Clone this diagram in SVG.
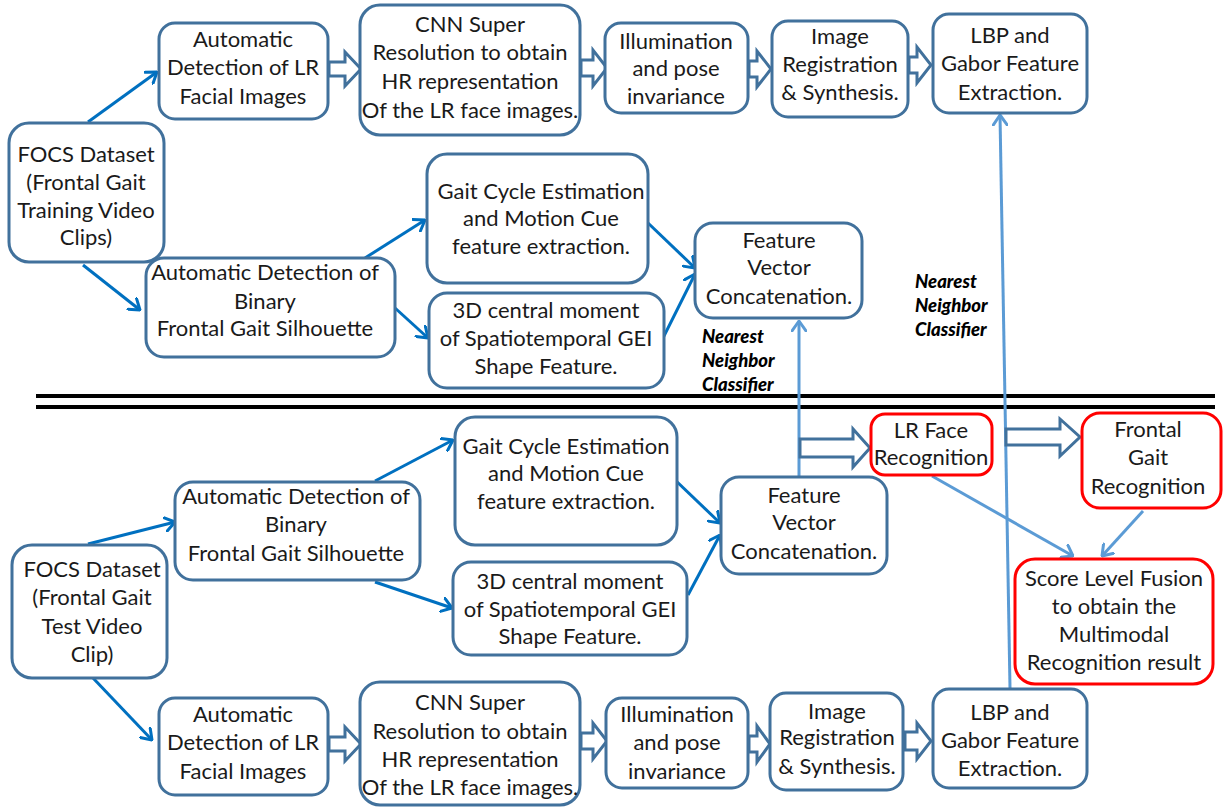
<svg xmlns="http://www.w3.org/2000/svg" width="1227" height="809" viewBox="0 0 1227 809">
<defs>
<style>
.b{fill:#fff;stroke:#41719C;stroke-width:3}
.r{fill:#fff;stroke:#FF0000;stroke-width:3}
.t{font-family:Lato,"Liberation Sans",sans-serif;font-size:22px;fill:#1a1a1a;text-anchor:middle}
.nn{font-family:Lato,"Liberation Sans",sans-serif;font-size:18.5px;font-weight:900;font-style:italic;fill:#000}
.c1{stroke:#0070C0;stroke-width:3;fill:none;marker-end:url(#a1)}
.c2{stroke:#5B9BD5;stroke-width:3;fill:none;marker-end:url(#a2)}
.ba{fill:#fff;stroke:#41719C;stroke-width:3;stroke-linejoin:miter}
.sep{stroke:#000;stroke-width:4}
</style>
<marker id="a1" viewBox="0 0 12 16" refX="11" refY="8" markerWidth="12" markerHeight="16" markerUnits="userSpaceOnUse" orient="auto">
<path d="M1,1 L11,8 L1,15" fill="none" stroke="#0070C0" stroke-width="3" stroke-linecap="round" stroke-linejoin="round"/>
</marker>
<marker id="a2" viewBox="0 0 12 16" refX="11" refY="8" markerWidth="12" markerHeight="16" markerUnits="userSpaceOnUse" orient="auto">
<path d="M1,1 L11,8 L1,15" fill="none" stroke="#5B9BD5" stroke-width="3" stroke-linecap="round" stroke-linejoin="round"/>
</marker>
</defs>
<rect width="1227" height="809" fill="#fff"/>

<g id="separator">
<line class="sep" x1="36" y1="396" x2="1215" y2="396"/>
<line class="sep" x1="36" y1="407" x2="1215" y2="407"/>
</g>

<g id="connectors">
<line class="c1" x1="88" y1="122" x2="157" y2="72"/>
<line class="c1" x1="83" y1="265" x2="140" y2="310"/>
<line class="c1" x1="365" y1="258" x2="425" y2="220"/>
<line class="c1" x1="395" y1="308" x2="428" y2="338"/>
<line class="c1" x1="648" y1="223" x2="695" y2="268"/>
<line class="c1" x1="663" y1="338" x2="695" y2="274"/>
<line class="c1" x1="88" y1="544" x2="175" y2="522"/>
<line class="c1" x1="375" y1="481" x2="453" y2="440"/>
<line class="c1" x1="375" y1="582" x2="452" y2="608"/>
<line class="c1" x1="673" y1="478" x2="720" y2="523"/>
<line class="c1" x1="688" y1="595" x2="720" y2="535"/>
<line class="c1" x1="93" y1="678" x2="152" y2="740"/>
<line class="c2" x1="799" y1="477" x2="799" y2="321"/>
<line class="c2" x1="1010" y1="688" x2="1000" y2="115"/>
<line class="c2" x1="932" y1="476" x2="1073" y2="556"/>
<line class="c2" x1="1143" y1="511" x2="1102" y2="556"/>
<polygon class="ba" points="329,62 345,62 345,52 361,69 345,86 345,76 329,76"/>
<polygon class="ba" points="581,60 593,60 593,50 607,68 593,86 593,76 581,76"/>
<polygon class="ba" points="749,61 757,61 757,51 771,69 757,87 757,77 749,77"/>
<polygon class="ba" points="909,57 917,57 917,47 931,65 917,83 917,73 909,73"/>
<polygon class="ba" points="329,737 345,737 345,727 361,744 345,761 345,751 329,751"/>
<polygon class="ba" points="581,733 593,733 593,723 607,741 593,759 593,749 581,749"/>
<polygon class="ba" points="749,736 757,736 757,726 770,744 757,762 757,752 749,752"/>
<polygon class="ba" points="905,732 917,732 917,723 931,741 917,759 917,750 905,750"/>
<polygon class="ba" points="800,439 853,439 853,429 870,448 853,467 853,457 800,457"/>
<polygon class="ba" points="1006,429 1060,429 1060,419 1080,437 1060,456 1060,445 1006,445"/>
</g>

<g id="nn-left">
<text class="nn" x="702" y="343">Nearest</text>
<text class="nn" x="702" y="367">Neighbor</text>
<text class="nn" x="702" y="391">Classifier</text>
</g>
<g id="nn-right">
<text class="nn" x="915" y="288">Nearest</text>
<text class="nn" x="915" y="312">Neighbor</text>
<text class="nn" x="915" y="336">Classifier</text>
</g>

<g id="focs-train">
<rect class="b" x="9" y="123" width="155" height="139" rx="20"/>
<text class="t" x="86" y="162">FOCS Dataset</text>
<text class="t" x="86" y="190">(Frontal Gait</text>
<text class="t" x="86" y="218">Training Video</text>
<text class="t" x="86" y="245">Clips)</text>
</g>
<g id="face-detect-train">
<rect class="b" x="159" y="23" width="169" height="96" rx="16"/>
<text class="t" x="243" y="47">Automatic</text>
<text class="t" x="243" y="75">Detection of LR</text>
<text class="t" x="243" y="104">Facial Images</text>
</g>
<g id="cnn-train">
<rect class="b" x="360" y="5" width="220" height="130" rx="20"/>
<text class="t" x="470" y="32">CNN Super</text>
<text class="t" x="470" y="60">Resolution to obtain</text>
<text class="t" x="470" y="89">HR representation</text>
<text class="t" x="470" y="118">Of the LR face images.</text>
</g>
<g id="illum-train">
<rect class="b" x="605" y="23" width="143" height="90" rx="16"/>
<text class="t" x="676" y="49">Illumination</text>
<text class="t" x="676" y="76">and pose</text>
<text class="t" x="676" y="104">invariance</text>
</g>
<g id="reg-train">
<rect class="b" x="772" y="21" width="136" height="96" rx="16"/>
<text class="t" x="840" y="44">Image</text>
<text class="t" x="840" y="72">Registration</text>
<text class="t" x="840" y="100">&amp; Synthesis.</text>
</g>
<g id="lbp-train">
<rect class="b" x="933" y="14" width="154" height="99" rx="16"/>
<text class="t" x="1010" y="43">LBP and</text>
<text class="t" x="1010" y="71">Gabor Feature</text>
<text class="t" x="1010" y="100">Extraction.</text>
</g>
<g id="gait-cycle-train">
<rect class="b" x="427" y="154" width="221" height="129" rx="20"/>
<text class="t" x="541" y="199">Gait Cycle Estimation</text>
<text class="t" x="541" y="226">and Motion Cue</text>
<text class="t" x="541" y="254">feature extraction.</text>
</g>
<g id="silhouette-train">
<rect class="b" x="146" y="258" width="249" height="99" rx="18"/>
<text class="t" x="265" y="280">Automatic Detection of</text>
<text class="t" x="265" y="309">Binary</text>
<text class="t" x="265" y="336">Frontal Gait Silhouette</text>
</g>
<g id="moment-train">
<rect class="b" x="429" y="293" width="235" height="95" rx="18"/>
<text class="t" x="546" y="318">3D central moment</text>
<text class="t" x="546" y="346">of Spatiotemporal GEI</text>
<text class="t" x="546" y="374">Shape Feature.</text>
</g>
<g id="fv-train">
<rect class="b" x="695" y="223" width="167" height="95" rx="18"/>
<text class="t" x="779" y="248">Feature</text>
<text class="t" x="779" y="275">Vector</text>
<text class="t" x="779" y="304">Concatenation.</text>
</g>

<g id="lr-face-recog">
<rect class="r" x="871" y="414" width="121" height="61" rx="14"/>
<text class="t" x="931" y="438">LR Face</text>
<text class="t" x="931" y="465">Recognition</text>
</g>
<g id="gait-recog">
<rect class="r" x="1082" y="413" width="139" height="95" rx="18"/>
<text class="t" x="1148" y="437">Frontal</text>
<text class="t" x="1148" y="465">Gait</text>
<text class="t" x="1148" y="494">Recognition</text>
</g>
<g id="gait-cycle-test">
<rect class="b" x="455" y="417" width="222" height="128" rx="20"/>
<text class="t" x="566" y="454">Gait Cycle Estimation</text>
<text class="t" x="566" y="481">and Motion Cue</text>
<text class="t" x="566" y="509">feature extraction.</text>
</g>
<g id="silhouette-test">
<rect class="b" x="175" y="482" width="245" height="98" rx="18"/>
<text class="t" x="296" y="504">Automatic Detection of</text>
<text class="t" x="296" y="532">Binary</text>
<text class="t" x="296" y="561">Frontal Gait Silhouette</text>
</g>
<g id="fv-test">
<rect class="b" x="721" y="477" width="166" height="97" rx="18"/>
<text class="t" x="804" y="503">Feature</text>
<text class="t" x="804" y="530">Vector</text>
<text class="t" x="804" y="559">Concatenation.</text>
</g>
<g id="moment-test">
<rect class="b" x="453" y="562" width="234" height="93" rx="18"/>
<text class="t" x="570" y="589">3D central moment</text>
<text class="t" x="570" y="617">of Spatiotemporal GEI</text>
<text class="t" x="570" y="644">Shape Feature.</text>
</g>
<g id="focs-test">
<rect class="b" x="12" y="545" width="155" height="133" rx="20"/>
<text class="t" x="92" y="577">FOCS Dataset</text>
<text class="t" x="92" y="605">(Frontal Gait</text>
<text class="t" x="92" y="634">Test Video</text>
<text class="t" x="92" y="662">Clip)</text>
</g>
<g id="fusion">
<rect class="r" x="1015" y="559" width="198" height="125" rx="20"/>
<text class="t" x="1114" y="586">Score Level Fusion</text>
<text class="t" x="1114" y="614">to obtain the</text>
<text class="t" x="1114" y="642">Multimodal</text>
<text class="t" x="1114" y="670">Recognition result</text>
</g>
<g id="face-detect-test">
<rect class="b" x="159" y="698" width="169" height="97" rx="16"/>
<text class="t" x="243" y="722">Automatic</text>
<text class="t" x="243" y="750">Detection of LR</text>
<text class="t" x="243" y="779">Facial Images</text>
</g>
<g id="cnn-test">
<rect class="b" x="360" y="682" width="220" height="123" rx="20"/>
<text class="t" x="470" y="710">CNN Super</text>
<text class="t" x="470" y="739">Resolution to obtain</text>
<text class="t" x="470" y="767">HR representation</text>
<text class="t" x="470" y="795">Of the LR face images.</text>
</g>
<g id="illum-test">
<rect class="b" x="606" y="698" width="142" height="90" rx="16"/>
<text class="t" x="677" y="722">Illumination</text>
<text class="t" x="677" y="750">and pose</text>
<text class="t" x="677" y="779">invariance</text>
</g>
<g id="reg-test">
<rect class="b" x="770" y="693" width="133" height="97" rx="16"/>
<text class="t" x="837" y="719">Image</text>
<text class="t" x="837" y="745">Registration</text>
<text class="t" x="837" y="774">&amp; Synthesis.</text>
</g>
<g id="lbp-test">
<rect class="b" x="933" y="689" width="154" height="99" rx="16"/>
<text class="t" x="1010" y="720">LBP and</text>
<text class="t" x="1010" y="748">Gabor Feature</text>
<text class="t" x="1010" y="776">Extraction.</text>
</g>
</svg>
